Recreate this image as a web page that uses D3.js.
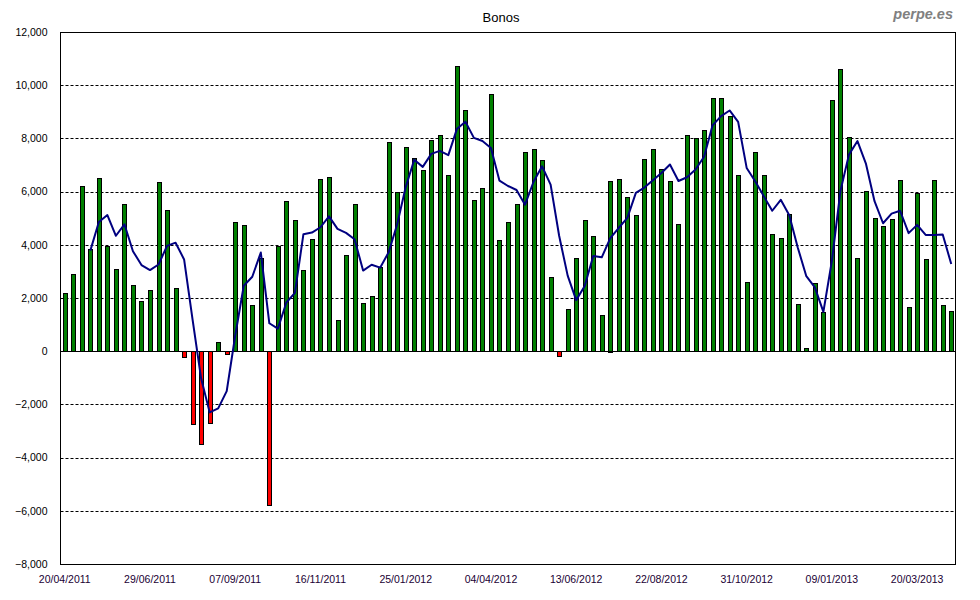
<!DOCTYPE html>
<html>
<head>
<meta charset="utf-8">
<script src="https://cdn.jsdelivr.net/npm/d3@7"></script>
<style>
  html, body { margin: 0; padding: 0; background: #fff; }
  svg { display: block; font-family: "Liberation Sans", Arial, sans-serif; }
</style>
</head>
<body>
<svg id="chart" width="980" height="600"></svg>
<script>
const title = "Bonos";
const watermark = "perpe.es";

const weeks = [
  "20/04/2011","27/04/2011","04/05/2011","11/05/2011","18/05/2011","25/05/2011","01/06/2011","08/06/2011","15/06/2011","22/06/2011",
  "29/06/2011","06/07/2011","13/07/2011","20/07/2011","27/07/2011","03/08/2011","10/08/2011","17/08/2011","24/08/2011","31/08/2011",
  "07/09/2011","14/09/2011","21/09/2011","28/09/2011","05/10/2011","12/10/2011","19/10/2011","26/10/2011","02/11/2011","09/11/2011",
  "16/11/2011","23/11/2011","30/11/2011","07/12/2011","14/12/2011","21/12/2011","28/12/2011","04/01/2012","11/01/2012","18/01/2012",
  "25/01/2012","01/02/2012","08/02/2012","15/02/2012","22/02/2012","29/02/2012","07/03/2012","14/03/2012","21/03/2012","28/03/2012",
  "04/04/2012","11/04/2012","18/04/2012","25/04/2012","02/05/2012","09/05/2012","16/05/2012","23/05/2012","30/05/2012","06/06/2012",
  "13/06/2012","20/06/2012","27/06/2012","04/07/2012","11/07/2012","18/07/2012","25/07/2012","01/08/2012","08/08/2012","15/08/2012",
  "22/08/2012","29/08/2012","05/09/2012","12/09/2012","19/09/2012","26/09/2012","03/10/2012","10/10/2012","17/10/2012","24/10/2012",
  "31/10/2012","07/11/2012","14/11/2012","21/11/2012","28/11/2012","05/12/2012","12/12/2012","19/12/2012","26/12/2012","02/01/2013",
  "09/01/2013","16/01/2013","23/01/2013","30/01/2013","06/02/2013","13/02/2013","20/02/2013","27/02/2013","06/03/2013","13/03/2013",
  "20/03/2013","27/03/2013","03/04/2013","10/04/2013","17/04/2013"
];

const bonos = [
  2180, 2900, 6200, 3840, 6500, 3950, 3085, 5530, 2480, 1880,
  2300, 6360, 5300, 2370, -230, -2750, -3500, -2710, 340, -110,
  4850, 4740, 1730, 3510, -5790, 3960, 5640, 4930, 3050, 4210,
  6470, 6550, 1170, 3610, 5530, 1810, 2070, 3160, 7860, 5990,
  7670, 7260, 6810, 7940, 8130, 6620, 10720, 9070, 5680, 6130,
  9670, 4180, 4850, 5530, 7490, 7600, 7190, 2780, -200, 1580,
  3500, 4930, 4330, 1350, 6410, 6470, 5790, 5120, 7220, 7600,
  6850, 6400, 4780, 8130, 8010, 8310, 9520, 9520, 8840, 6620,
  2600, 7490, 6620, 4400, 4250, 5150, 1770, 110, 2560, 1470,
  9440, 10610, 8050, 3500, 6020, 5000, 4700, 4970, 6430, 1660,
  5940, 3460, 6430, 1730, 1510
];

const mediaMovil = [
  null, null, null, 3780, 4860, 5120, 4340, 4770, 3760, 3240,
  3050, 3260, 3960, 4080, 3450, 1180, -1030, -2300, -2150, -1500,
  590, 2460, 2800, 3710, 1050, 850, 1830, 2190, 4400, 4460,
  4660, 5070, 4600, 4450, 4210, 3030, 3250, 3140, 3720, 4770,
  6170, 7200, 6930, 7420, 7530, 7370, 8350, 8630, 8020, 7900,
  7640, 6410, 6210, 6060, 5510, 6370, 6950, 6260, 4340, 2840,
  1920, 2450, 3580, 3530, 4250, 4640, 5010, 5950, 6150, 6430,
  6700, 7020, 6400, 6540, 6830, 7310, 8490, 8840, 9050, 8620,
  6890, 6390, 5830, 5280, 5690, 5110, 3890, 2820, 2400, 1480,
  3400, 6020, 7390, 7900, 7040, 5640, 4810, 5170, 5280, 4440,
  4750, 4370, 4370, 4390, 3280
];

const yTicks = [12000, 10000, 8000, 6000, 4000, 2000, 0, -2000, -4000, -6000, -8000];
const xTickLabels = ["20/04/2011","29/06/2011","07/09/2011","16/11/2011","25/01/2012","04/04/2012","13/06/2012","22/08/2012","31/10/2012","09/01/2013","20/03/2013"];

const svg = d3.select("#chart");
const plotL = 60.5, plotR = 955.5, plotT = 32, plotB = 564;

const x = d3.scaleBand().domain(weeks).range([plotL, plotR]).paddingInner(0.5).paddingOuter(0.25);
const y = d3.scaleLinear().domain([-8000, 12000]).range([plotB, plotT]);
const barW = 4;

// gridlines
const fmt = d3.format(",");
svg.append("g").selectAll("line")
  .data(yTicks.filter(v => v !== 0 && v !== 12000))
  .join("line")
  .attr("x1", plotL).attr("x2", plotR)
  .attr("y1", d => Math.round(y(d)) + 0.5).attr("y2", d => Math.round(y(d)) + 0.5)
  .attr("stroke", "#000").attr("stroke-width", 1)
  .attr("stroke-dasharray", "3,2");

// y axis labels
const yAxis = d3.axisLeft(y).tickValues(yTicks).tickSize(0).tickPadding(0).tickFormat(fmt);
svg.append("g")
  .attr("transform", `translate(${plotL - 13},0)`)
  .call(yAxis)
  .call(g => g.select(".domain").remove())
  .call(g => g.selectAll("text").attr("font-size", "10.5px").attr("fill", "#000")
    .attr("font-family", "'Liberation Sans', Arial, sans-serif"));

// bars
svg.append("g").selectAll("rect")
  .data(bonos)
  .join("rect")
  .attr("x", (d, i) => Math.round(x(weeks[i]) + x.bandwidth() / 2 - barW / 2) + 0.5)
  .attr("width", barW)
  .attr("y", d => Math.round(y(Math.max(0, d))) + 0.5)
  .attr("height", d => Math.max(1, Math.round(Math.abs(y(d) - y(0)))))
  .attr("fill", d => d < 0 ? "#ff0000" : "#008000")
  .attr("stroke", "#000")
  .attr("stroke-width", 1);

// zero line
svg.append("line")
  .attr("x1", plotL).attr("x2", plotR)
  .attr("y1", Math.round(y(0)) + 0.5).attr("y2", Math.round(y(0)) + 0.5)
  .attr("stroke", "#000").attr("stroke-width", 1.2);

// moving average line
const line = d3.line()
  .defined(d => d !== null)
  .x((d, i) => x(weeks[i]) + x.bandwidth() / 2)
  .y(d => y(d));
svg.append("path")
  .datum(mediaMovil)
  .attr("d", line)
  .attr("fill", "none")
  .attr("stroke", "#000080")
  .attr("stroke-width", 2)
  .attr("stroke-linejoin", "round");

// plot frame
svg.append("rect")
  .attr("x", plotL).attr("y", plotT + 0.5)
  .attr("width", plotR - plotL).attr("height", plotB - plotT)
  .attr("fill", "none").attr("stroke", "#000").attr("stroke-width", 1);

// x axis labels
const xAxis = d3.axisBottom(x).tickValues(xTickLabels).tickSize(0).tickPadding(0);
svg.append("g")
  .attr("transform", `translate(0,${plotB + 12})`)
  .call(xAxis)
  .call(g => g.select(".domain").remove())
  .call(g => g.selectAll("text").attr("font-size", "10.5px").attr("fill", "#1a0033")
    .attr("font-family", "'Liberation Sans', Arial, sans-serif"));

// title
svg.append("text")
  .attr("x", 501).attr("y", 22)
  .attr("text-anchor", "middle")
  .attr("font-size", "13px")
  .attr("fill", "#000")
  .text(title);

svg.append("text")
  .attr("x", 953).attr("y", 19)
  .attr("text-anchor", "end")
  .attr("font-size", "14.5px")
  .attr("font-weight", "bold")
  .attr("font-style", "italic")
  .attr("fill", "#808080")
  .text(watermark);
</script>
</body>
</html>
